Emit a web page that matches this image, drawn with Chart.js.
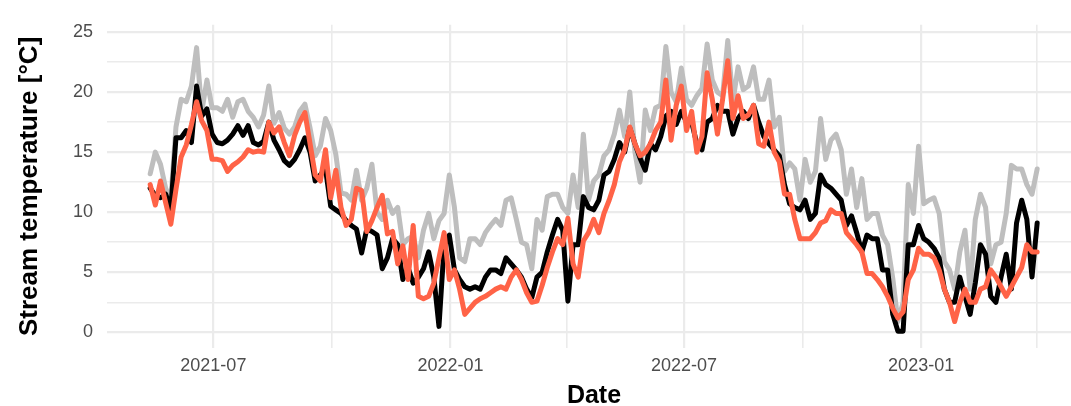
<!DOCTYPE html>
<html>
<head>
<meta charset="utf-8">
<script src="https://cdn.jsdelivr.net/npm/chart.js"></script>
<style>
  html, body { margin: 0; padding: 0; background: #fff; overflow: hidden; }
</style>
</head>
<body>
<canvas id="tempchart" width="1085" height="406"></canvas>
<script>
'use strict';
// stream temperature series, one reading every 4 days from 13 May 2021
const startDate = Date.UTC(2021, 4, 13);
const stepDays = 4;
const DAY = 86400000;

const tempGrey = [
  13.2, 15.0, 14.0, 12.0, 11.0, 17.1, 19.4, 19.2, 20.5, 23.7, 18.4, 21.0, 18.7, 18.7, 18.4, 19.4, 17.9, 19.2, 19.4, 18.4, 17.9, 17.1, 18.1, 20.5,
  17.4, 18.3, 17.0, 16.5, 17.1, 18.4, 19.0, 17.0, 14.7, 15.5, 17.8, 16.8, 14.8, 11.6, 11.5, 11.0, 13.5, 11.0, 12.0, 14.0, 10.0, 9.4, 11.0, 9.9,
  10.4, 7.3, 7.8, 8.0, 6.2, 8.5, 9.9, 7.8, 9.3, 9.9, 13.1, 10.4, 6.2, 5.9, 7.8, 7.8, 7.3, 8.3, 8.9, 9.4, 8.9, 11.0, 11.2, 9.4,
  7.5, 7.3, 5.3, 9.4, 8.5, 11.3, 11.5, 11.5, 10.4, 9.9, 13.1, 10.4, 16.5, 11.0, 12.6, 13.1, 14.7, 15.2, 16.5, 18.5, 16.3, 20.0, 15.0, 12.5,
  18.5, 16.8, 18.7, 18.9, 23.8, 20.0, 19.2, 22.0, 19.4, 18.9, 19.7, 20.3, 24.0, 21.0, 20.0, 19.7, 24.3, 19.2, 22.1, 20.2, 20.5, 22.1, 19.4, 19.4, 21.0,
  17.1, 17.9, 13.4, 14.1, 13.6, 11.0, 14.4, 12.5, 13.4, 17.8, 14.4, 16.0, 16.5, 15.2, 11.5, 13.6, 10.4, 12.8, 9.4, 9.9, 9.9, 8.1, 7.3, 4.5,
  0.9, 2.5, 12.3, 9.9, 15.5, 10.7, 11.0, 11.2, 9.9, 5.9, 5.2, 3.6, 6.7, 8.5, 3.6, 9.4, 11.5, 10.4, 5.7, 7.3, 7.5, 9.9, 13.9, 13.6, 13.6, 12.3, 11.5, 13.6
];
const tempBlack = [
  12.0, 11.4, 11.2, 11.5, 10.3, 16.2, 16.2, 16.8, 15.8, 20.5, 18.0, 18.6, 16.5, 15.8, 15.7, 16.0, 16.5, 17.2, 16.4, 17.2, 15.8, 15.6, 15.9, 17.5,
  16.0, 15.2, 14.3, 13.9, 14.4, 15.2, 16.2, 15.0, 12.6, 13.1, 13.6, 10.5, 10.2, 9.9, 9.3, 8.9, 8.6, 6.6, 8.6, 8.4, 8.1, 5.3, 6.2, 7.8,
  7.3, 4.4, 5.4, 4.1, 4.6, 5.3, 6.7, 4.6, 0.5, 7.2, 8.1, 5.2, 4.4, 3.8, 3.6, 3.8, 3.6, 4.6, 5.2, 5.2, 4.9, 6.2, 5.7, 5.2,
  4.6, 3.6, 2.9, 4.6, 5.0, 6.7, 8.1, 9.4, 8.5, 2.6, 7.3, 7.3, 11.3, 10.4, 10.2, 11.0, 13.1, 13.4, 14.4, 15.8, 15.0, 17.0, 15.7, 14.5,
  13.5, 15.7, 15.2, 16.3, 18.0, 18.4, 17.3, 18.4, 17.5, 17.5, 15.7, 15.2, 17.5, 17.8, 18.9, 18.4, 18.4, 16.5, 17.8, 18.4, 17.8, 18.9, 17.5, 16.3, 15.7,
  15.2, 14.7, 12.3, 10.7, 10.4, 10.2, 11.0, 9.4, 9.9, 13.1, 12.3, 12.0, 11.5, 11.0, 8.9, 9.7, 8.3, 6.7, 8.1, 7.8, 7.8, 5.2, 5.2, 1.5,
  0.1, 0.1, 7.3, 7.3, 8.9, 7.8, 7.5, 7.0, 6.2, 3.6, 2.5, 2.5, 4.6, 3.0, 1.5, 4.1, 7.3, 6.5, 3.0, 2.5, 4.6, 6.5, 3.6, 9.1, 11.0, 9.4, 4.6, 9.1
];
const tempRed = [
  12.3, 10.6, 12.6, 10.8, 9.0, 11.9, 14.6, 15.6, 17.3, 19.2, 17.6, 16.8, 14.4, 14.4, 14.3, 13.4, 13.9, 14.2, 14.6, 15.2, 15.0, 15.1, 15.0, 17.5,
  16.6, 17.1, 15.8, 14.7, 16.4, 17.5, 18.3, 15.7, 13.1, 12.6, 15.2, 11.2, 13.5, 10.4, 8.9, 9.4, 12.0, 11.8, 8.4, 9.3, 10.4, 11.4, 8.2, 8.4,
  5.7, 7.2, 4.4, 8.9, 3.0, 2.8, 3.0, 4.1, 6.2, 8.3, 4.4, 5.2, 3.6, 1.5, 2.0, 2.5, 2.8, 3.0, 3.3, 3.6, 3.8, 3.6, 4.6, 5.2,
  4.4, 3.3, 2.5, 2.6, 3.9, 5.4, 6.7, 7.8, 7.3, 9.5, 5.7, 4.6, 7.6, 8.3, 9.4, 8.3, 9.9, 11.0, 12.3, 14.2, 15.2, 17.1, 15.7, 14.7,
  15.0, 15.7, 16.8, 17.5, 21.0, 16.0, 18.9, 20.5, 16.8, 18.4, 15.0, 16.3, 21.6, 19.4, 16.5, 19.4, 22.6, 17.8, 19.7, 17.8, 18.1, 18.9, 15.7, 15.5, 17.5,
  15.0, 14.2, 11.5, 11.5, 9.4, 7.8, 7.8, 7.8, 8.3, 9.1, 9.3, 10.2, 9.9, 9.9, 8.3, 7.8, 7.3, 6.7, 4.9, 4.9, 4.4, 3.8, 3.0, 2.0,
  1.2, 1.7, 4.4, 5.2, 7.0, 6.5, 6.5, 6.2, 5.2, 3.6, 2.5, 0.9, 2.5, 3.6, 2.5, 2.5, 3.6, 3.8, 5.2, 4.6, 3.8, 3.0, 3.8, 4.6, 5.4, 7.3, 6.7, 6.7
];

// x gridlines on quarter starts, labels on half years
const monthTicks = ['2021-07-01', '2021-10-01', '2022-01-01', '2022-04-01', '2022-07-01', '2022-10-01', '2023-01-01', '2023-04-01'];
const labelledMonths = ['2021-07', '2022-01', '2022-07', '2023-01'];
const yTicks = [0, 2.5, 5, 7.5, 10, 12.5, 15, 17.5, 20, 22.5, 25];
const yLabels = [0, 5, 10, 15, 20, 25];

const dates = tempGrey.map((_, i) => startDate + i * stepDays * DAY);
const toPoints = vals => vals.map((v, i) => ({ x: dates[i], y: v }));

const FONT = 'Liberation Sans, Arial, Helvetica, sans-serif';
const GRID = '#EBEBEB';

function line(data, colour, order) {
  return {
    data: toPoints(data),
    borderColor: colour,
    borderWidth: 5,
    pointRadius: 0,
    tension: 0,
    borderJoinStyle: 'round',
    borderCapStyle: 'round',
    fill: false,
    order: order
  };
}

new Chart(document.getElementById('tempchart').getContext('2d'), {
  type: 'line',
  data: {
    datasets: [
      line(tempGrey, '#BEBEBE', 3),
      line(tempBlack, '#000000', 2),
      line(tempRed, '#FF6347', 1)
    ]
  },
  options: {
    responsive: false,
    animation: false,
    devicePixelRatio: 1,
    layout: { padding: { left: 0, right: 4, top: 9, bottom: 0 } },
    plugins: { legend: { display: false }, tooltip: { enabled: false } },
    scales: {
      x: {
        type: 'linear',
        min: Date.UTC(2021, 3, 9, 12),
        max: Date.UTC(2023, 4, 5),
        afterBuildTicks: s => { s.ticks = monthTicks.map(d => ({ value: Date.parse(d) })); },
        afterFit: s => { s.height = 58; },
        border: { display: false },
        grid: {
          color: GRID,
          drawTicks: false,
          lineWidth: ctx => labelledMonths.includes(new Date(ctx.tick.value).toISOString().slice(0, 7)) ? 2.2 : 1.6
        },
        ticks: {
          autoSkip: false,
          maxRotation: 0,
          padding: 7,
          color: '#4D4D4D',
          font: { family: FONT, size: 18 },
          callback: v => {
            const m = new Date(v).toISOString().slice(0, 7);
            return labelledMonths.includes(m) ? m : '';
          }
        },
        title: {
          display: true,
          text: 'Date',
          color: '#000',
          font: { family: FONT, size: 25, weight: 'bold' },
          padding: { top: 0, bottom: -5 }
        }
      },
      y: {
        min: -1.3,
        max: 25.6,
        afterBuildTicks: s => { s.ticks = yTicks.map(v => ({ value: v })); },
        afterFit: s => { s.width = 107; },
        border: { display: false },
        grid: {
          color: GRID,
          drawTicks: false,
          lineWidth: ctx => yLabels.includes(ctx.tick.value) ? 2.2 : 1.6
        },
        ticks: {
          autoSkip: false,
          padding: 14,
          color: '#4D4D4D',
          font: { family: FONT, size: 18 },
          callback: v => yLabels.includes(v) ? String(v) : ''
        },
        title: {
          display: true,
          text: 'Stream temperature [°C]',
          color: '#000',
          font: { family: FONT, size: 26, weight: 'bold' },
          padding: { top: 14, bottom: 0 }
        }
      }
    }
  }
});
</script>
</body>
</html>
